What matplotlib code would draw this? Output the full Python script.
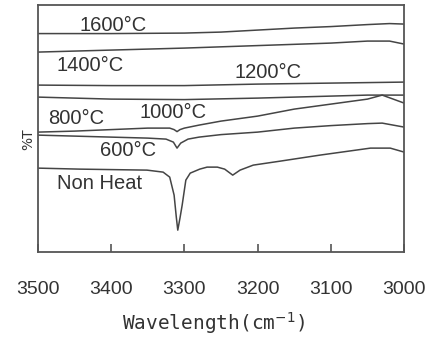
import matplotlib.pyplot as plt

# wavenumber (cm-1) and relative %T (arbitrary units, no y ticks in the original)
w_1600 = [3500, 3400, 3300, 3250, 3200, 3150, 3100, 3050, 3020, 3000]
t_1600 = [218.5, 218.5, 219, 220, 222, 224, 225.5, 227.5, 228.5, 228]

w_1400 = [3500, 3400, 3300, 3200, 3100, 3050, 3020, 3000]
t_1400 = [200, 202, 204, 206.5, 209, 211, 211, 208]

w_1200 = [3500, 3400, 3300, 3200, 3100, 3000]
t_1200 = [167, 166.5, 166.5, 168, 169, 170]

w_1000 = [3500, 3400, 3300, 3200, 3100, 3050, 3000]
t_1000 = [155, 153, 152.5, 154, 156, 157, 157]

w_800 = [3500, 3450, 3400, 3350, 3320, 3314, 3310, 3306, 3300, 3280, 3250,
         3200, 3150, 3100, 3050, 3030, 3015, 3000]
t_800 = [120, 121, 122.5, 124, 124, 122.5, 120.5, 122.5, 124, 127, 131,
         136, 143, 148, 153, 157, 153, 149]

w_600 = [3500, 3450, 3400, 3350, 3325, 3315, 3310, 3305, 3295, 3280, 3250,
         3200, 3150, 3100, 3050, 3030, 3000]
t_600 = [117, 116, 115, 114, 113, 110, 104, 109, 113, 115, 117.5,
         120, 124, 126.5, 128.5, 129, 125]

w_non = [3500, 3443, 3351, 3329, 3320, 3314, 3311, 3309, 3306, 3303, 3298,
         3292, 3279, 3269, 3255, 3245, 3234, 3224, 3206, 3169, 3115, 3046,
         3019, 3000]
t_non = [84, 83, 82, 80, 75, 57, 35, 22, 34, 47, 72,
         79, 83, 85, 85, 83, 77, 82, 87, 91, 97, 104,
         104, 100]

labels = ['1600°C', '1400°C', '1200°C', '1000°C', '800°C', '600°C', 'Non Heat']
label_w = [3443, 3474, 3231, 3361, 3486, 3415, 3474]
label_t = [227, 187, 180, 140, 134, 102, 69]

xticks = [3500, 3400, 3300, 3200, 3100, 3000]

fig = plt.figure(figsize=(4.25, 3.38), dpi=100)
ax = fig.add_axes([0.089, 0.254, 0.862, 0.731])

line_color = '#454545'
for w, t in [(w_1600, t_1600), (w_1400, t_1400), (w_1200, t_1200),
             (w_1000, t_1000), (w_800, t_800), (w_600, t_600), (w_non, t_non)]:
    ax.plot(w, t, color=line_color, linewidth=1.1)

for lab, x, y in zip(labels, label_w, label_t):
    ax.text(x, y, lab, fontsize=14.5, family='Liberation Sans',
            color='#333333', ha='left', va='center')

ax.set_xlim(3500, 3000)
ax.set_ylim(0, 247)
ax.set_xticks(xticks)
ax.set_xticklabels([str(v) for v in xticks], fontsize=14,
                   family='Liberation Sans', color='#333333')
ax.set_yticks([])
ax.tick_params(axis='x', direction='in', length=6, width=1.2,
               color='#555555', pad=21)
for s in ax.spines.values():
    s.set_color('#555555')
    s.set_linewidth(1.3)

fig.text(214 / 425, 1 - 323 / 338, 'Wavelength(cm$^{-1}$)', fontsize=14,
         family='DejaVu Sans Mono', color='#333333', ha='center', va='center')
ax.text(-0.027, 0.457, '%T', transform=ax.transAxes, rotation=90,
        fontsize=10, color='#333333', ha='center', va='center')

fig.savefig('out.png', dpi=100)
